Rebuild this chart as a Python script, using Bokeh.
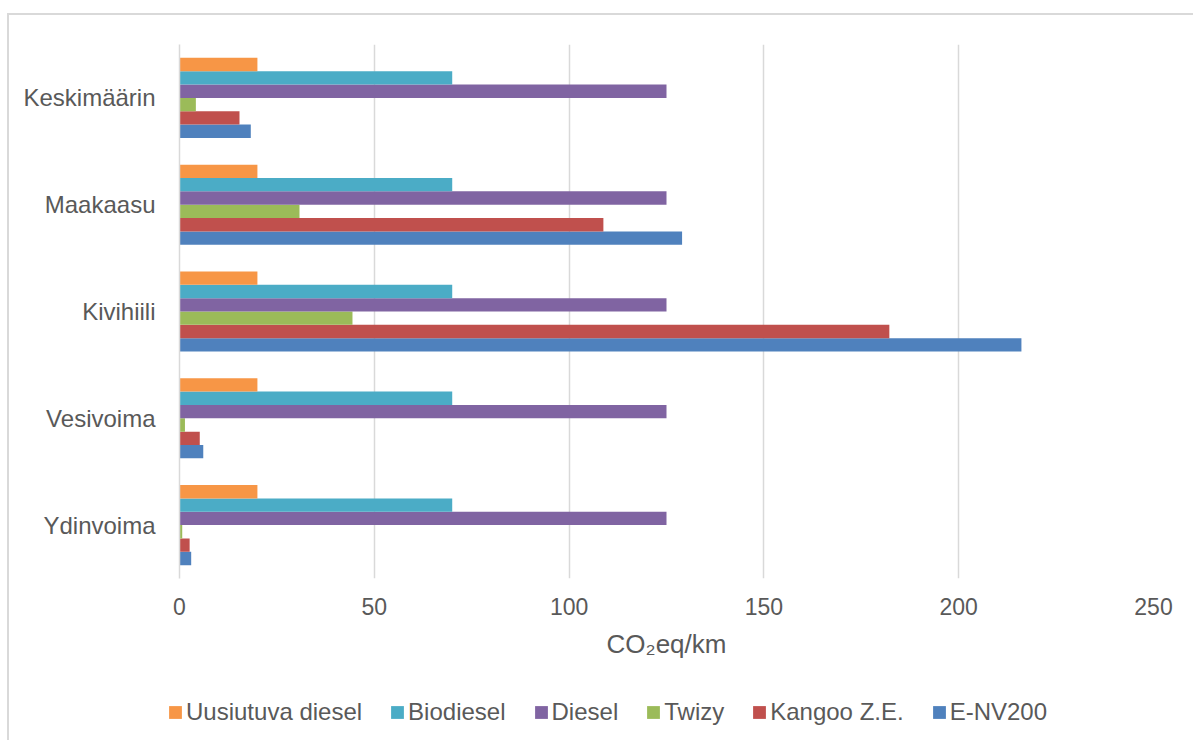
from bokeh.plotting import figure
from bokeh.layouts import column
from bokeh.models import FactorRange, Range1d, FixedTicker, Legend, LegendItem, ColumnDataSource
from bokeh.transform import dodge
from bokeh.embed import file_html
from bokeh.resources import INLINE

categories = ["Ydinvoima", "Vesivoima", "Kivihiili", "Maakaasu", "Keskimäärin"]
e_nv200 = [3.0, 6.1, 216.1, 129.0, 18.3]
kangoo = [2.6, 5.2, 182.2, 108.8, 15.4]
twizy = [0.7, 1.4, 44.4, 30.8, 4.2]
diesel = [125, 125, 125, 125, 125]
biodiesel = [70, 70, 70, 70, 70]
uusiutuva = [20, 20, 20, 20, 20]
series_names = ["E-NV200", "Kangoo Z.E.", "Twizy", "Diesel", "Biodiesel", "Uusiutuva diesel"]
series_values = [e_nv200, kangoo, twizy, diesel, biodiesel, uusiutuva]
colors = ["#4F81BD", "#C0504D", "#9BBB59", "#8064A2", "#4BACC6", "#F79646"]
x_ticks = [0, 50, 100, 150, 200, 250]

FONT = "Liberation Sans"
TXT = "#595959"
GRID = "#d9d9d9"

src = ColumnDataSource(dict(cat=categories, **{f"s{i}": v for i, v in enumerate(series_values)}))

p = figure(width=1184, height=680,
           y_range=FactorRange(factors=categories, range_padding=0),
           x_range=Range1d(0, 250),
           output_backend="svg", toolbar_location=None,
           min_border_left=170, min_border_top=29, min_border_right=40, min_border_bottom=117)
p.frame_align = False
p.outline_line_color = None
p.background_fill_color = "white"
p.border_fill_color = "white"

h = 0.125
renderers = []
for i, (name, col) in enumerate(zip(series_names, colors)):
    off = -2.5 * h + i * h
    r = p.hbar(y=dodge("cat", off, range=p.y_range), right=f"s{i}", left=0, height=h,
               source=src, fill_color=col, line_color=None)
    renderers.append(r)

p.ygrid.grid_line_color = None
p.xgrid.grid_line_color = GRID
p.xgrid.grid_line_width = 1.5
p.xaxis.ticker = FixedTicker(ticks=x_ticks)

for ax in (p.xaxis[0], p.yaxis[0]):
    ax.major_tick_line_color = None
    ax.minor_tick_line_color = None
    ax.major_label_text_font = FONT
    ax.major_label_text_color = TXT
p.xaxis.major_label_text_font_size = "23px"
p.yaxis.major_label_text_font_size = "24px"

p.xaxis.axis_line_color = None
p.xaxis.major_label_standoff = 13
p.xaxis.axis_label = "CO₂eq/km"
p.xaxis.axis_label_text_font = FONT
p.xaxis.axis_label_text_font_size = "26px"
p.xaxis.axis_label_text_font_style = "normal"
p.xaxis.axis_label_text_color = TXT
p.xaxis.axis_label_standoff = 11

p.yaxis.axis_line_color = GRID
p.yaxis.axis_line_width = 1.5
p.yaxis.major_label_standoff = 18

# legend strip below the chart
lg = figure(width=1184, height=45, x_range=Range1d(0, 1), y_range=Range1d(0, 1),
            x_axis_type=None, y_axis_type=None, output_backend="svg", toolbar_location=None,
            min_border=0)
lg.frame_align = False
lg.outline_line_color = None
lg.grid.grid_line_color = None
hidden = ColumnDataSource(dict(y=[-5], right=[0]))
items = []
for name, col in reversed(list(zip(series_names, colors))):
    r = lg.hbar(y="y", right="right", left=0, height=0.1, source=hidden,
                fill_color=col, line_color=None)
    items.append(LegendItem(label=name, renderers=[r]))
legend = Legend(items=items, orientation="horizontal", location=(158, 14),
                label_text_font=FONT, label_text_font_size="24px", label_text_color=TXT,
                glyph_width=16, glyph_height=16, label_standoff=3, spacing=27,
                padding=0, margin=0, border_line_color=None, background_fill_alpha=0)
lg.add_layout(legend, "center")

layout = column(p, lg, margin=(13, 0, 0, 7), spacing=0,
                styles={"border-left": "2px solid #d9d9d9", "border-top": "2px solid #d9d9d9"})

open("out.html", "w").write(file_html(layout, INLINE))
